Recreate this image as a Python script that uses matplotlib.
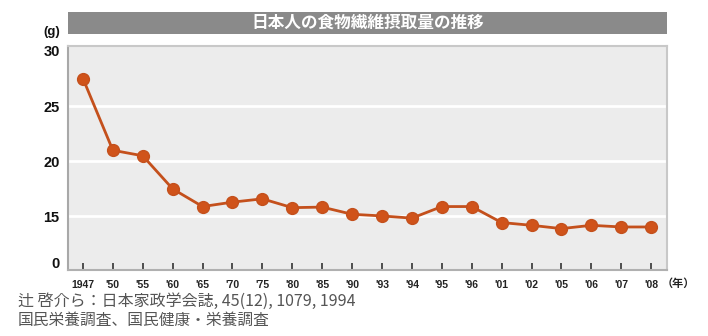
import matplotlib
matplotlib.use("Agg")
import matplotlib.pyplot as plt

plt.rcParams['font.family'] = ['Liberation Sans', 'Noto Sans CJK JP', 'DejaVu Sans']

years = ["1947", "'50", "'55", "'60", "'65", "'70", "'75", "'80", "'85", "'90",
         "'93", "'94", "'95", "'96", "'01", "'02", "'05", "'06", "'07", "'08"]
fiber = [27.5, 21.0, 20.5, 17.5, 15.9, 16.3, 16.6, 15.8, 15.85, 15.2,
         15.05, 14.85, 15.9, 15.9, 14.45, 14.2, 13.9, 14.2, 14.05, 14.05]
ytick_vals = [10.85, 15, 20, 25, 30]
ytick_labels = ["0", "15", "20", "25", "30"]
title = "日本人の食物繊維摂取量の推移"
source1 = "辻 啓介ら：日本家政学会誌, 45(12), 1079, 1994"
source2 = "国民栄養調査、国民健康・栄養調査"

W, H = 708, 336
fig = plt.figure(figsize=(W/100, H/100), dpi=100)
L, R, T, B = 68, 667, 46, 270
ax = fig.add_axes([L/W, 1-B/H, (R-L)/W, (B-T)/H])
ax.set_facecolor('#ececec')

x = list(range(len(years)))
for g in [15, 20, 25]:
    ax.axhline(g, color='white', lw=2, zorder=1)
ax.plot(x, fiber, color='#c4501c', lw=2, marker='o', markersize=8.5,
        markerfacecolor='#d0531a', markeredgecolor='#c4501c', zorder=3)

ax.set_xlim(-0.5, len(years) - 0.47)
ax.set_ylim(10.15, 30.45)
ax.set_xticks(x)
ax.set_xticklabels(years, fontsize=7.5, fontweight='bold', color='#222222')
ax.set_yticks(ytick_vals)
ax.set_yticklabels(ytick_labels, fontsize=10.5, fontweight='bold', color='#111111')
ax.tick_params(axis='x', direction='in', length=5, width=1.2, color='#333333', pad=7)
ax.tick_params(axis='y', length=0, pad=6)
for s in ['top', 'right']:
    ax.spines[s].set_color('#c8c8c8')
    ax.spines[s].set_linewidth(1.5)
ax.spines['left'].set_color('#a8a8a8')
ax.spines['left'].set_linewidth(1.5)
ax.spines['bottom'].set_color('#b0b0b0')
ax.spines['bottom'].set_linewidth(1.5)

# title bar
tax = fig.add_axes([L/W, 1-34/H, (R-L)/W, 22/H])
tax.set_facecolor('#8a8a8a')
tax.set_xticks([]); tax.set_yticks([])
for s in tax.spines.values():
    s.set_visible(False)
tax.text(0.5, 0.5, title, ha='center', va='center', color='white',
         fontsize=12, fontweight='bold', family=['Noto Sans CJK JP'],
         transform=tax.transAxes)

fig.text(52/W, 1-32/H, "(g)", ha='center', va='center', fontsize=9.5,
         fontweight='bold', color='#111111')
fig.text(678/W, 1-283/H, "（年）", ha='center', va='center', fontsize=8,
         fontweight='bold', color='#222222', family=['Noto Sans CJK JP'])
fig.text(18/W, 1-301/H, source1, ha='left', va='center', fontsize=11.5,
         color='#555555', family=['Noto Sans CJK JP', 'DejaVu Sans'])
fig.text(18/W, 1-320/H, source2, ha='left', va='center', fontsize=11.3,
         color='#555555', family=['Noto Sans CJK JP', 'DejaVu Sans'])

fig.savefig('out.png', dpi=100, facecolor='white')
